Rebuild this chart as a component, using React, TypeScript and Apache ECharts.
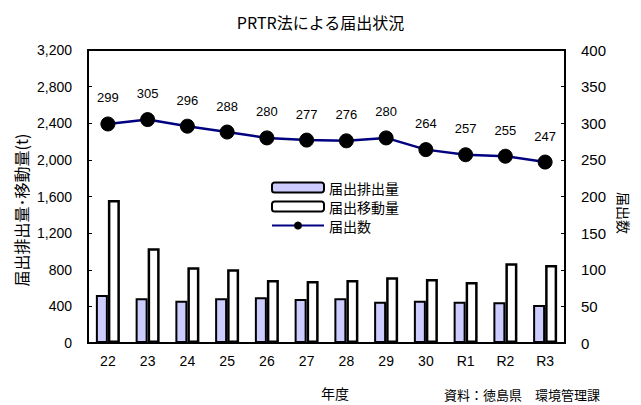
import React, { useEffect, useRef } from "react";
import * as echarts from "echarts";

const categories = ["22", "23", "24", "25", "26", "27", "28", "29", "30", "R1", "R2", "R3"];
const emissions = [524, 488, 462, 488, 499, 480, 488, 451, 462, 451, 444, 415];
const transfers = [1562, 1034, 827, 805, 688, 677, 688, 717, 699, 666, 870, 852];
const notifications = [299, 305, 296, 288, 280, 277, 276, 280, 264, 257, 255, 247];

const JP = '"Noto Sans CJK JP", sans-serif';
const NUM = '"Liberation Sans", Arial, sans-serif';

export default function App() {
  const ref = useRef<HTMLDivElement>(null);
  useEffect(() => {
    const chart = echarts.init(ref.current!, null, { renderer: "svg" });
    chart.setOption({
      animation: false,
      backgroundColor: "#ffffff",
      title: {
        text: "PRTR法による届出状況",
        left: "center",
        top: 9,
        textStyle: { fontFamily: JP, fontSize: 16, fontWeight: "normal", color: "#000" },
      },
      grid: { left: 88, right: 76, top: 50, bottom: 62, show: true, borderColor: "#000", borderWidth: 2 },
      legend: {
        orient: "vertical",
        left: 266,
        top: 175,
        itemWidth: 52,
        itemHeight: 10,
        itemGap: 4,
        textStyle: { fontFamily: JP, fontSize: 14, lineHeight: 15, color: "#000" },
        data: ["届出排出量", "届出移動量", "届出数"],
      },
      xAxis: {
        type: "category",
        data: categories,
        axisLine: { lineStyle: { color: "#000", width: 2 } },
        axisTick: { show: false },
        axisLabel: { fontFamily: NUM, fontSize: 14, color: "#000", margin: 11 },
      },
      yAxis: [
        {
          type: "value",
          min: 0,
          max: 3200,
          interval: 400,
          axisLine: { show: true, lineStyle: { color: "#000", width: 2 } },
          axisTick: { show: true, inside: true, length: 4, lineStyle: { color: "#000", width: 1 } },
          axisLabel: {
            fontFamily: NUM,
            fontSize: 14,
            color: "#000",
            margin: 16,
            formatter: (v: number) => v.toLocaleString("en-US"),
          },
          splitLine: { show: false },
        },
        {
          type: "value",
          min: 0,
          max: 400,
          interval: 50,
          position: "right",
          axisLine: { show: true, lineStyle: { color: "#000", width: 2 } },
          axisTick: { show: true, inside: true, length: 4, lineStyle: { color: "#000", width: 1 } },
          axisLabel: { fontFamily: NUM, fontSize: 15, color: "#000", margin: 16 },
          splitLine: { show: false },
        },
      ],
      graphic: [
        {
          type: "text",
          x: 21,
          y: 210,
          rotation: Math.PI / 2,
          style: {
            text: "届出排出量･移動量(t)",
            font: `16px ${JP}`,
            fill: "#000",
            align: "center",
            verticalAlign: "middle",
          },
        },
        {
          type: "text",
          x: 624,
          y: 213,
          rotation: -Math.PI / 2,
          style: {
            text: "届出数",
            font: `14px ${JP}`,
            fill: "#000",
            align: "center",
            verticalAlign: "middle",
          },
        },
        {
          type: "text",
          x: 335,
          y: 393,
          style: { text: "年度", font: `14px ${JP}`, fill: "#000", align: "center", verticalAlign: "middle" },
        },
        {
          type: "text",
          x: 600,
          y: 394,
          style: {
            text: "資料：徳島県　環境管理課",
            font: `13px ${JP}`,
            fill: "#000",
            align: "right",
            verticalAlign: "middle",
          },
        },
      ],
      series: [
        {
          name: "届出排出量",
          type: "bar",
          data: emissions,
          barWidth: 12,
          barGap: "0%",
          itemStyle: { color: "#ccccff", borderColor: "#000", borderWidth: 2 },
        },
        {
          name: "届出移動量",
          type: "bar",
          data: transfers,
          barWidth: 12,
          barGap: "0%",
          itemStyle: { color: "#ffffff", borderColor: "#000", borderWidth: 2.5 },
        },
        {
          name: "届出数",
          type: "line",
          yAxisIndex: 1,
          data: notifications,
          symbol: "circle",
          symbolSize: 14,
          lineStyle: { color: "#000080", width: 2.5 },
          itemStyle: { color: "#000", borderColor: "#000" },
          label: {
            show: true,
            position: "top",
            distance: 12,
            fontFamily: NUM,
            fontSize: 13,
            color: "#000",
          },
        },
      ],
    });
    return () => chart.dispose();
  }, []);
  return <div ref={ref} style={{ width: 641, height: 405, position: "absolute", left: 0, top: 0 }} />;
}
